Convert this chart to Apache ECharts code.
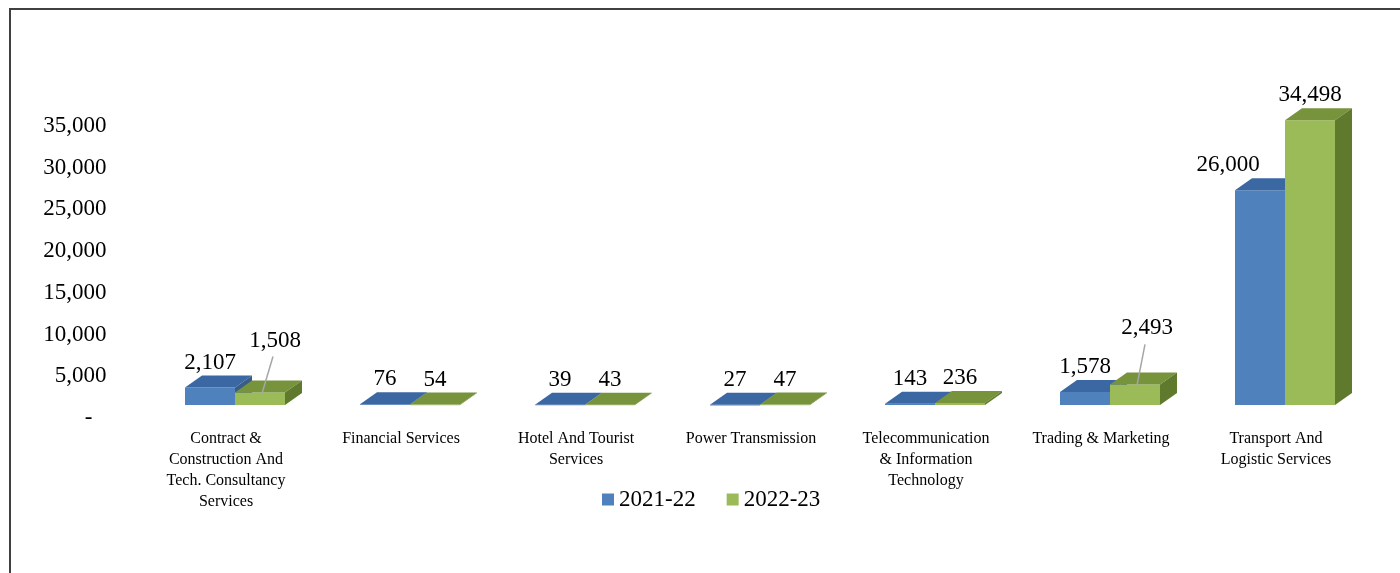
<!DOCTYPE html>
<html>
<head>
<meta charset="utf-8">
<script src="https://cdn.jsdelivr.net/npm/echarts@6.0.0/dist/echarts.min.js"></script>
<style>
  html, body { margin: 0; padding: 0; background: #ffffff; }
  #chart { width: 1400px; height: 573px; }
</style>
</head>
<body>
<div id="chart"></div>
<script>
// ---- data ----
const categories = [
  'Contract &\nConstruction And\nTech. Consultancy\nServices',
  'Financial Services',
  'Hotel And Tourist\nServices',
  'Power Transmission',
  'Telecommunication\n& Information\nTechnology',
  'Trading & Marketing',
  'Transport And\nLogistic Services'
];
const seriesNames = ['2021-22', '2022-23'];
const values2021 = [2107, 76, 39, 27, 143, 1578, 26000];
const values2022 = [1508, 54, 43, 47, 236, 2493, 34498];
const axisMax = 35000;
const axisStep = 5000;

// ---- look ----
const FONT = '"Liberation Serif", "Times New Roman", serif';
const BAR_FRAC = 50 / 175;      // front face width as share of a category band
const DX = 17, DY = 12;         // 3D depth of each column
const palettes = [
  { front: '#4F81BD', top: '#3B67A3', side: '#385D8A' },
  { front: '#9BBB59', top: '#77933C', side: '#5F7A2C' }
];
// label nudges (px) for labels moved off their column, with a leader line when lifted
const labelNudge = [
  { 6: [-32, 0] },
  { 0: [15, -27], 5: [12, -31] }
];

const fmt = v => v.toLocaleString('en-US');

function makeRender(s) {
  const pal = palettes[s];
  return function (params, api) {
    const i = api.value(0), v = api.value(1);
    const base = api.coord([i, 0]);
    const top = api.coord([i, v]);
    const band = api.size([1, 0])[0];
    const w = band * BAR_FRAC;
    const x0 = base[0] - w + s * w;
    const yb = base[1], yt = top[1];

    const children = [
      { type: 'rect', shape: { x: x0, y: yt, width: w, height: Math.max(yb - yt, 0.6) },
        style: { fill: pal.front } },
      { type: 'polygon', shape: { points: [[x0, yt], [x0 + w, yt], [x0 + w + DX, yt - DY], [x0 + DX, yt - DY]] },
        style: { fill: pal.top } },
      { type: 'polygon', shape: { points: [[x0 + w, yt], [x0 + w, yb], [x0 + w + DX, yb - DY], [x0 + w + DX, yt - DY]] },
        style: { fill: pal.side } }
    ];

    const nudge = labelNudge[s][params.dataIndex] || [0, 0];
    const lx = x0 + w / 2 + nudge[0];
    const ly = yt - DY - 13 + nudge[1];
    if (nudge[1] < -10) {
      children.push({
        type: 'line',
        shape: { x1: lx - 2, y1: ly + 16, x2: x0 + w / 2 + 2, y2: yt + 1 },
        style: { stroke: '#A6A6A6', lineWidth: 1.5 }
      });
    }
    children.push({
      type: 'text', x: lx, y: ly,
      style: { text: fmt(v), fill: '#000', fontSize: 23, fontFamily: FONT,
               align: 'center', verticalAlign: 'middle' }
    });
    return { type: 'group', children };
  };
}

const chart = echarts.init(document.getElementById('chart'), null, { renderer: 'canvas' });
chart.setOption({
  animation: false,
  backgroundColor: '#ffffff',
  graphic: [{
    type: 'rect', silent: true,
    shape: { x: 10, y: 9, width: 1430, height: 620 },
    style: { fill: 'none', stroke: '#404040', lineWidth: 2 }
  }],
  legend: {
    data: seriesNames,
    left: 597, top: 483,
    icon: 'rect', itemWidth: 12, itemHeight: 12, itemGap: 31,
    textStyle: { fontSize: 23, fontFamily: FONT, color: '#000' }
  },
  grid: [
    { left: 138.5, right: 36.5, top: 126, bottom: 155 },   // axis labels
    { left: 147.5, right: 27.5, top: 116, bottom: 168 }    // columns
  ],
  xAxis: [
    {
      gridIndex: 0, type: 'category', data: categories,
      axisLine: { show: false }, axisTick: { show: false }, splitLine: { show: false },
      axisLabel: { interval: 0, margin: 10, fontSize: 16, lineHeight: 21,
                   fontFamily: FONT, color: '#000' }
    },
    { gridIndex: 1, type: 'category', data: categories, show: false }
  ],
  yAxis: [
    {
      gridIndex: 0, type: 'value', min: 0, max: axisMax, interval: axisStep,
      axisLine: { show: false }, axisTick: { show: false }, splitLine: { show: false },
      axisLabel: {
        margin: 32, fontSize: 23, fontFamily: FONT, color: '#000',
        formatter: v => v === 0 ? '{z|-}' : fmt(v),
        rich: { z: { fontSize: 23, fontFamily: FONT, color: '#000', padding: [0, 14, 0, 0] } }
      }
    },
    { gridIndex: 1, type: 'value', min: 0, max: axisMax, show: false }
  ],
  series: [values2021, values2022].map((vals, s) => ({
    name: seriesNames[s],
    type: 'custom',
    xAxisIndex: 1, yAxisIndex: 1,
    clip: false,
    itemStyle: { color: palettes[s].front },
    renderItem: makeRender(s),
    encode: { x: 0, y: 1 },
    data: vals.map((v, i) => [i, v])
  }))
});
</script>
</body>
</html>
